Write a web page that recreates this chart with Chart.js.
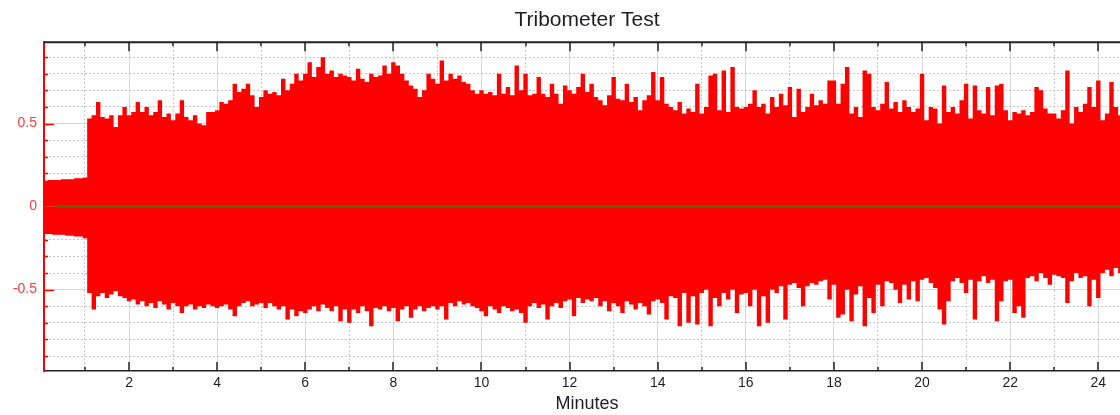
<!DOCTYPE html>
<html>
<head>
<meta charset="utf-8">
<script src="https://cdn.jsdelivr.net/npm/chart.js@4"></script>
<style>
  html, body { margin: 0; padding: 0; overflow: hidden; background: #fff; }
  #wrap { width: 1120px; height: 415px; overflow: hidden; }
  #inner { width: 1174px; height: 415px; }
</style>
</head>
<body>
<div id="wrap"><div id="inner"><canvas id="chart" width="1174" height="415"></canvas></div></div>
<script>
// signal envelope, one value every 0.1 minute starting at t = 0 (one row = one minute)
const sampleStep = 0.1;

const upperPeak = [
  0.155, 0.155, 0.16, 0.16, 0.16, 0.165, 0.165, 0.165, 0.17, 0.17,
  0.175, 0.53, 0.55, 0.63, 0.54, 0.53, 0.55, 0.48, 0.55, 0.6,
  0.55, 0.57, 0.63, 0.57, 0.6, 0.55, 0.57, 0.64, 0.54, 0.56,
  0.52, 0.56, 0.64, 0.54, 0.52, 0.55, 0.5, 0.49, 0.57, 0.57,
  0.58, 0.63, 0.62, 0.64, 0.74, 0.69, 0.71, 0.74, 0.67, 0.6,
  0.66, 0.7, 0.68, 0.69, 0.67, 0.77, 0.7, 0.74, 0.8, 0.76,
  0.8, 0.87, 0.78, 0.84, 0.9, 0.8, 0.82, 0.78, 0.8, 0.79,
  0.78, 0.76, 0.83, 0.77, 0.75, 0.8, 0.78, 0.79, 0.85, 0.8,
  0.87, 0.85, 0.8, 0.76, 0.73, 0.71, 0.66, 0.7, 0.8, 0.77,
  0.74, 0.88, 0.76, 0.8, 0.77, 0.79, 0.75, 0.74, 0.7, 0.68,
  0.7, 0.68, 0.69, 0.67, 0.8, 0.68, 0.72, 0.67, 0.85, 0.7,
  0.8, 0.67, 0.68, 0.78, 0.68, 0.66, 0.74, 0.68, 0.62, 0.73,
  0.7, 0.68, 0.72, 0.8, 0.69, 0.74, 0.66, 0.64, 0.61, 0.67,
  0.78, 0.65, 0.64, 0.74, 0.63, 0.66, 0.58, 0.64, 0.67, 0.81,
  0.64, 0.78, 0.62, 0.6, 0.58, 0.63, 0.56, 0.59, 0.57, 0.74,
  0.56, 0.6, 0.79, 0.8, 0.58, 0.82, 0.57, 0.84, 0.6, 0.59,
  0.6, 0.62, 0.7, 0.6, 0.62, 0.56, 0.66, 0.6, 0.68, 0.61,
  0.72, 0.54, 0.71, 0.57, 0.6, 0.68, 0.61, 0.64, 0.62, 0.76,
  0.76, 0.62, 0.74, 0.84, 0.56, 0.6, 0.54, 0.82, 0.8, 0.6,
  0.58, 0.62, 0.75, 0.59, 0.63, 0.57, 0.64, 0.6, 0.57, 0.59,
  0.8, 0.52, 0.6, 0.59, 0.5, 0.73, 0.57, 0.6, 0.56, 0.64,
  0.74, 0.53, 0.73, 0.58, 0.56, 0.72, 0.55, 0.73, 0.74, 0.58,
  0.52, 0.57, 0.56, 0.58, 0.55, 0.57, 0.72, 0.7, 0.59, 0.56,
  0.56, 0.53, 0.58, 0.82, 0.5, 0.6, 0.57, 0.62, 0.72, 0.6,
  0.76, 0.52, 0.56, 0.75, 0.6, 0.55, 0.56, 0.55, 0.55, 0.55
];

const lowerPeak = [
  -0.16, -0.165, -0.165, -0.17, -0.17, -0.17, -0.175, -0.175, -0.18, -0.18,
  -0.19, -0.52, -0.62, -0.54, -0.52, -0.55, -0.53, -0.51, -0.54, -0.55,
  -0.57, -0.56, -0.59, -0.57, -0.6, -0.58, -0.61, -0.57, -0.59, -0.62,
  -0.58, -0.6, -0.64, -0.6, -0.59, -0.62, -0.6, -0.61, -0.59, -0.6,
  -0.61, -0.6, -0.59, -0.62, -0.66, -0.6, -0.58, -0.57, -0.6, -0.59,
  -0.58, -0.61, -0.58, -0.6, -0.62, -0.6, -0.68, -0.62, -0.66, -0.63,
  -0.64, -0.62, -0.6, -0.63, -0.59, -0.61, -0.63, -0.6, -0.69, -0.62,
  -0.7, -0.62, -0.64, -0.6, -0.63, -0.72, -0.61, -0.62, -0.6, -0.63,
  -0.61, -0.69, -0.62, -0.6, -0.67, -0.62, -0.6, -0.63, -0.61, -0.6,
  -0.62, -0.6, -0.68, -0.58, -0.6, -0.57, -0.59, -0.58, -0.6, -0.61,
  -0.63, -0.66, -0.6, -0.62, -0.64, -0.6, -0.61, -0.63, -0.62, -0.64,
  -0.7, -0.6, -0.58, -0.61, -0.59, -0.68, -0.6, -0.58, -0.61, -0.57,
  -0.56, -0.66, -0.55, -0.58, -0.56, -0.57, -0.55, -0.6, -0.57, -0.63,
  -0.58, -0.6, -0.64, -0.57, -0.59, -0.62, -0.58, -0.6, -0.65, -0.57,
  -0.56, -0.58, -0.68, -0.54, -0.55, -0.72, -0.52, -0.7, -0.54, -0.71,
  -0.52, -0.5, -0.72, -0.55, -0.6, -0.52, -0.56, -0.5, -0.64, -0.53,
  -0.52, -0.6, -0.5, -0.72, -0.54, -0.7, -0.5, -0.52, -0.48, -0.68,
  -0.47, -0.46, -0.49, -0.6, -0.48, -0.46, -0.47, -0.45, -0.44, -0.56,
  -0.47, -0.67, -0.65, -0.5, -0.69, -0.53, -0.48, -0.72, -0.55, -0.64,
  -0.47, -0.6, -0.45, -0.46, -0.5, -0.58, -0.47, -0.56, -0.45, -0.57,
  -0.44, -0.43, -0.46, -0.49, -0.62, -0.71, -0.57, -0.45, -0.43, -0.46,
  -0.52, -0.44, -0.68, -0.45, -0.42, -0.46, -0.44, -0.69, -0.57, -0.45,
  -0.44, -0.64, -0.6, -0.67, -0.43, -0.42, -0.45, -0.4, -0.43, -0.47,
  -0.41, -0.42, -0.43, -0.58, -0.45, -0.4, -0.43, -0.42, -0.6, -0.44,
  -0.55, -0.4, -0.38, -0.42, -0.37, -0.4, -0.39, -0.38, -0.4, -0.4
];

// zero reference line (starts a little after the signal)
const baselineMinutes = [0.32, 24.9];
const baselineValues = [0, 0];

// axes
const xGridMinutes = [1, 2, 3, 4, 5, 6, 7, 8, 9, 10, 11, 12, 13, 14, 15, 16, 17, 18, 19, 20, 21, 22, 23, 24];
const xLabelMinutes = [2, 4, 6, 8, 10, 12, 14, 16, 18, 20, 22, 24];
const yGridValues = [-0.9, -0.8, -0.7, -0.6, -0.5, -0.4, -0.3, -0.2, -0.1, 0, 0.1, 0.2, 0.3, 0.4, 0.5, 0.6, 0.7, 0.8, 0.9];
const yLabelValues = [-0.5, 0, 0.5];

const toPoints = vals => vals.map((v, i) => ({ x: +(i * sampleStep).toFixed(2), y: v }));

Chart.defaults.font.family = "'Liberation Sans', Arial, sans-serif";

// inward tick marks + top frame line, like the original plot
const innerTicks = {
    id: 'innerTicks',
    afterDatasetsDraw(chart) {
        const { ctx, chartArea: a, scales: { x, y } } = chart;
        ctx.save();
        ctx.strokeStyle = '#222';
        ctx.lineWidth = 2;
        ctx.beginPath();
        ctx.moveTo(a.left, a.top);
        ctx.lineTo(a.right, a.top);
        ctx.stroke();
        ctx.lineWidth = 1.5;
        x.ticks.forEach(t => {
            const px = Math.round(x.getPixelForValue(t.value));
            const len = xLabelMinutes.includes(t.value) ? 9 : 4;
            ctx.beginPath();
            ctx.moveTo(px, a.bottom);
            ctx.lineTo(px, a.bottom - len);
            ctx.moveTo(px, a.top);
            ctx.lineTo(px, a.top + len);
            ctx.stroke();
        });
        ctx.strokeStyle = '#ff0000';
        y.ticks.forEach(t => {
            const py = Math.round(y.getPixelForValue(t.value)) + 0.5;
            const len = yLabelValues.includes(t.value) ? 10 : 4;
            ctx.beginPath();
            ctx.moveTo(a.left, py);
            ctx.lineTo(a.left + len, py);
            ctx.stroke();
        });
        ctx.restore();
    }
};

const signalStyle = {
    stepped: 'middle',
    fill: 'origin',
    backgroundColor: '#ff0000',
    borderColor: 'rgba(255,0,0,0)',
    borderWidth: 1,
    pointRadius: 0,
    order: 1
};

const ctx = document.getElementById('chart').getContext('2d');
new Chart(ctx, {
    type: 'line',
    data: {
        datasets: [
            {
                label: 'zero',
                data: baselineMinutes.map((m, i) => ({ x: m, y: baselineValues[i] })),
                borderColor: '#5a6a00',
                borderWidth: 2,
                pointRadius: 0,
                fill: false,
                order: 0
            },
            Object.assign({ label: 'upper', data: toPoints(upperPeak) }, signalStyle),
            Object.assign({ label: 'lower', data: toPoints(lowerPeak) }, signalStyle)
        ]
    },
    options: {
        responsive: false,
        animation: false,
        layout: { padding: { left: 0, right: 44, top: 0, bottom: 0 } },
        plugins: {
            legend: { display: false },
            tooltip: { enabled: false },
            title: {
                display: true,
                fullSize: false,
                text: 'Tribometer Test',
                color: '#1e1e2a',
                font: { size: 21, weight: 'normal' },
                padding: { top: 8, bottom: 9 }
            }
        },
        scales: {
            x: {
                type: 'linear',
                min: 0.07,
                max: 24.72,
                afterBuildTicks: axis => { axis.ticks = xGridMinutes.map(v => ({ value: v })); },
                afterFit: axis => { axis.height = 44; },
                ticks: {
                    autoSkip: false,
                    maxRotation: 0,
                    padding: 4,
                    color: '#1e1e2a',
                    font: { size: 14 },
                    callback: v => xLabelMinutes.includes(v) ? String(v) : ''
                },
                grid: {
                    drawTicks: false,
                    color: c => (c.tick && xLabelMinutes.includes(c.tick.value)) ? '#d6d6d6' : '#c6c6c6'
                },
                border: {
                    color: '#222',
                    width: 1.5,
                    dash: c => (c.tick && !xLabelMinutes.includes(c.tick.value)) ? [2, 2] : []
                },
                title: {
                    display: true,
                    text: 'Minutes',
                    color: '#1e1e2a',
                    font: { size: 18 },
                    padding: { top: 0, bottom: 0 }
                }
            },
            y: {
                min: -0.99,
                max: 0.99,
                afterBuildTicks: axis => { axis.ticks = yGridValues.map(v => ({ value: v })); },
                afterFit: axis => { axis.width = 44; },
                ticks: {
                    autoSkip: false,
                    padding: 7,
                    color: 'rgb(255,60,60)',
                    font: { size: 14 },
                    callback: v => yLabelValues.includes(v) ? String(v) : ''
                },
                grid: {
                    drawTicks: false,
                    color: c => (c.tick && yLabelValues.includes(c.tick.value)) ? '#d6d6d6' : '#c6c6c6'
                },
                border: {
                    color: '#ff0000',
                    width: 2,
                    dash: c => (c.tick && !yLabelValues.includes(c.tick.value)) ? [2, 2] : []
                }
            }
        }
    },
    plugins: [innerTicks]
});
</script>
</body>
</html>
